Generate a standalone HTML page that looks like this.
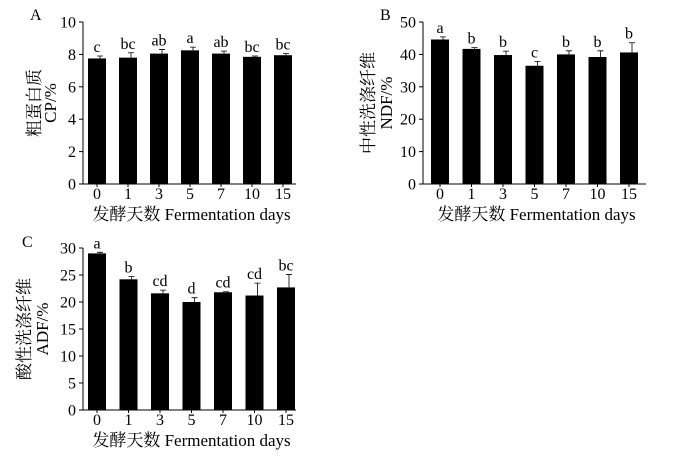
<!DOCTYPE html>
<html><head><meta charset="utf-8"><style>
html,body{margin:0;padding:0;background:#fff;width:700px;height:463px;overflow:hidden}
svg text{font-family:"Liberation Serif","Noto Serif CJK SC","Noto Sans CJK SC",serif;fill:#000}
</style></head><body>
<svg id="chart" width="700" height="463" viewBox="0 0 700 463" xmlns="http://www.w3.org/2000/svg"></svg>
<script>
const categories = ["0","1","3","5","7","10","15"];
const cpValues = [7.75, 7.8, 8.05, 8.25, 8.05, 7.85, 7.95];
const cpErrors = [0.15, 0.3, 0.25, 0.2, 0.15, 0.05, 0.1];
const cpLetters = ["c","bc","ab","a","ab","bc","bc"];
const cpTicks = [0,2,4,6,8,10];
const ndfValues = [44.6, 41.7, 39.8, 36.5, 40.0, 39.2, 40.6];
const ndfErrors = [0.8, 0.4, 1.2, 1.3, 1.1, 1.9, 3.0];
const ndfLetters = ["a","b","b","c","b","b","b"];
const ndfTicks = [0,10,20,30,40,50];
const adfValues = [29.0, 24.2, 21.6, 20.0, 21.8, 21.2, 22.7];
const adfErrors = [0.2, 0.5, 0.6, 0.8, 0.1, 2.3, 2.4];
const adfLetters = ["a","b","cd","d","cd","cd","bc"];
const adfTicks = [0,5,10,15,20,25,30];

const svg = document.getElementById('chart');
const NS = 'http://www.w3.org/2000/svg';
function mk(tag, attrs, parent){
  const e = document.createElementNS(NS, tag);
  for (const k in attrs) e.setAttribute(k, attrs[k]);
  parent.appendChild(e);
  return e;
}
function panel(cfg){
  const g = mk('g', {}, svg);
  
  
  const ax = cfg.x0, top = cfg.yTop, bot = cfg.yBot, right = cfg.x1;
  const ymax = cfg.ticks[cfg.ticks.length-1];
  const yScale = v => bot - v / ymax * (bot - top);
  const xScale = i => cfg.c0 + i * cfg.step;
  // axes
  const yAxis = mk('line', {x1:ax, y1:top, x2:ax, y2:bot, stroke:'#000', 'stroke-width':1}, g);
  
  
  const xAxis = mk('line', {x1:ax, y1:bot, x2:right, y2:bot, stroke:'#000', 'stroke-width':1}, g);
  
  
  cfg.ticks.forEach(t => {
    const y = yScale(t);
    mk('line', {x1:ax-4, y1:y, x2:ax, y2:y, stroke:'#000'}, g);
    const tl = mk('text', {x:ax-7, y:y+5.5, 'text-anchor':'end', 'font-size':16}, g);
    tl.textContent = t;
    
    
  });
  categories.forEach((c, i) => {
    const cx = xScale(i);
    mk('line', {x1:cx, y1:bot, x2:cx, y2:bot+3, stroke:'#000'}, g);
    const tl = mk('text', {x:cx, y:bot+15, 'text-anchor':'middle', 'font-size':16}, g);
    tl.textContent = c;
    
    
    const v = cfg.values[i], e = cfg.errors[i];
    const yv = yScale(v), ye = yScale(v + e);
    const bar = mk('rect', {x:cx-9, y:yv, width:18, height:bot-yv, fill:'#000'}, g);
    
    
    const err = mk('path', {d:`M${cx+3},${yv} V${ye} M${cx},${ye} H${cx+6}`, stroke:'#000', 'stroke-width':0.8, fill:'none'}, g);
    
    
    const lt = mk('text', {x:cx, y:ye-4, 'text-anchor':'middle', 'font-size':16}, g);
    lt.textContent = cfg.letters[i];
    
    
  });
  const xt = mk('text', {x:(ax+right)/2+2, y:bot+36, 'text-anchor':'middle', 'font-size':17}, g);
  xt.textContent = '发酵天数  Fermentation days';
  
  
  const my = (top + bot) / 2;
  const yt1 = mk('text', {x:0, y:0, 'text-anchor':'middle', 'font-size':17, transform:`translate(${cfg.lx1},${my}) rotate(-90)`}, g);
  yt1.textContent = cfg.zh;
  
  
  const yt2 = mk('text', {x:0, y:0, 'text-anchor':'middle', 'font-size':17, transform:`translate(${cfg.lx2},${my}) rotate(-90)`}, g);
  yt2.textContent = cfg.en;
  
  
  const pl = mk('text', {x:cfg.px, y:cfg.py, 'font-size':16}, g);
  pl.textContent = cfg.key;
  
  
}
panel({key:'A', x0:83, x1:296, yTop:22, yBot:184, c0:97, step:31, values:cpValues, errors:cpErrors, letters:cpLetters, ticks:cpTicks, zh:'粗蛋白质', en:'CP/%', lx1:40, lx2:56, px:30, py:20});
panel({key:'B', x0:423, x1:646, yTop:22, yBot:184, c0:440, step:31.5, values:ndfValues, errors:ndfErrors, letters:ndfLetters, ticks:ndfTicks, zh:'中性洗涤纤维', en:'NDF/%', lx1:374, lx2:392, px:380, py:20});
panel({key:'C', x0:83, x1:296, yTop:248, yBot:410, c0:97, step:31.5, values:adfValues, errors:adfErrors, letters:adfLetters, ticks:adfTicks, zh:'酸性洗涤纤维', en:'ADF/%', lx1:30, lx2:48, px:22, py:247});
</script>
</body></html>
